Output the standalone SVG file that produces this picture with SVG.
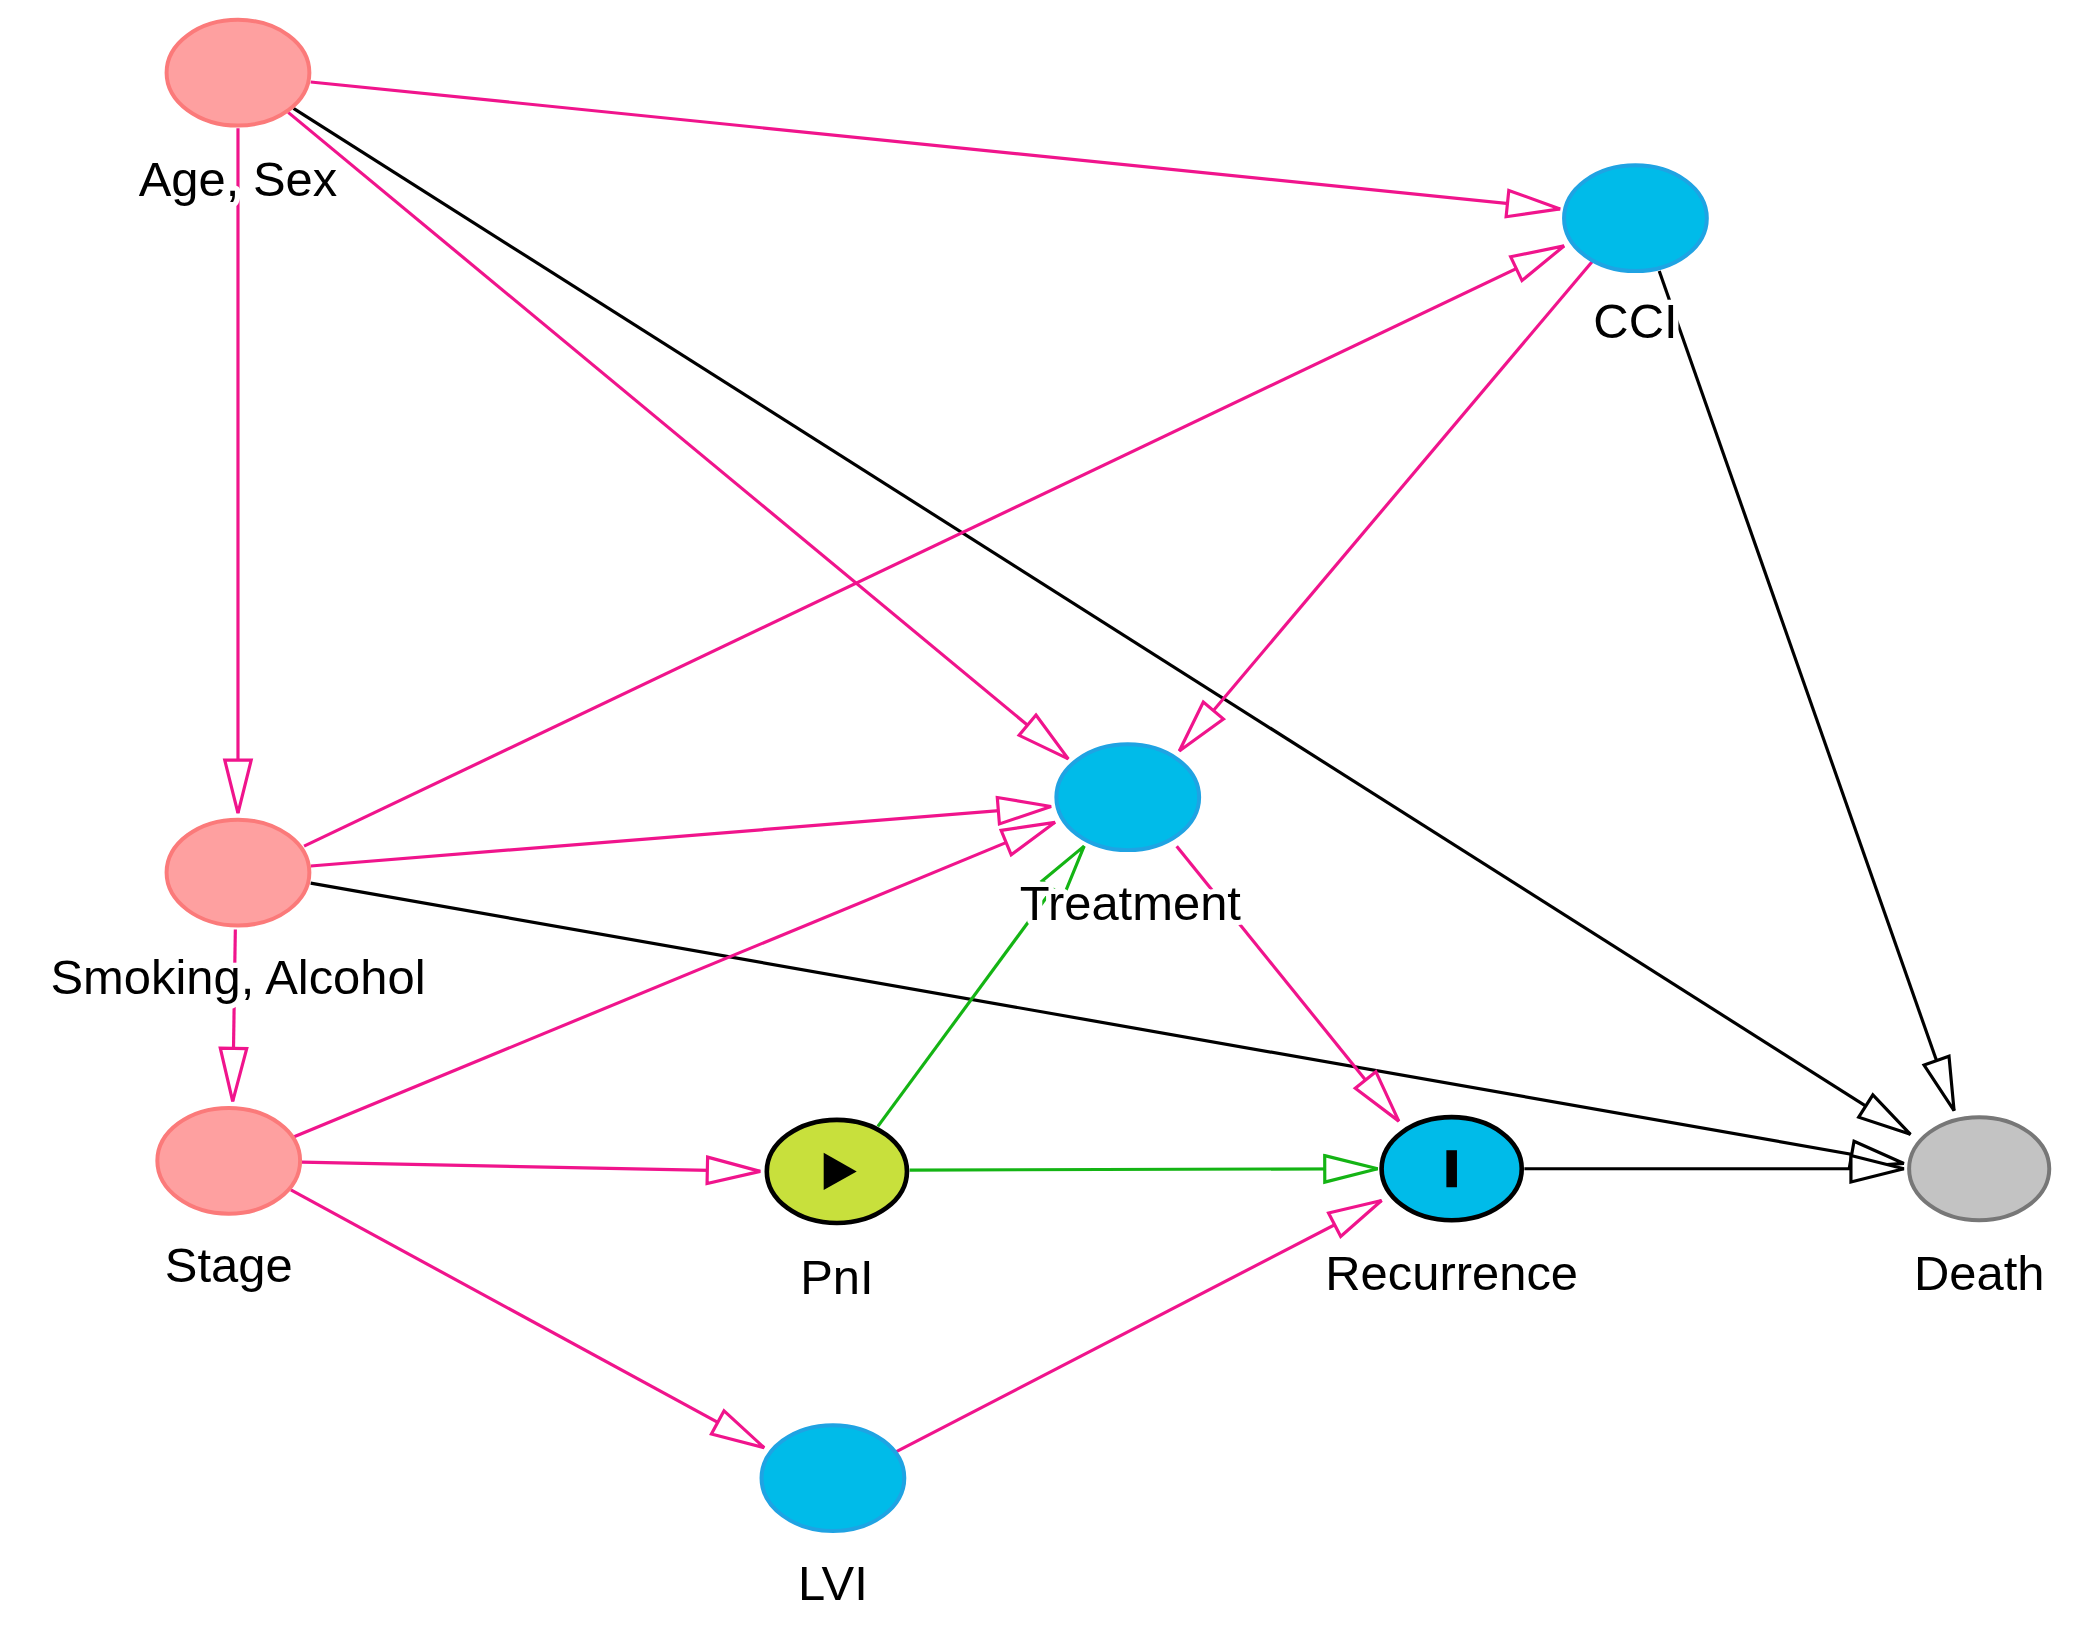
<svg xmlns="http://www.w3.org/2000/svg" width="2073" height="1637" viewBox="0 0 2073 1637">
<style>
.p{stroke:#f0148c;stroke-width:2.4;fill:none}
.k{stroke:#000;stroke-width:2.4;fill:none}
.g{stroke:#14b414;stroke-width:2.4;fill:none}
.red{fill:#fea0a0;stroke:#fb7a7a;stroke-width:3}
.blue{fill:#00bbe9;stroke:#1fa3e3;stroke-width:3}
.lbl{font-family:"Liberation Sans",Arial,sans-serif;font-size:37px;fill:#000;text-anchor:middle;stroke:#fff;stroke-width:8;paint-order:stroke;stroke-linejoin:round}
</style>
<defs>
<marker id="ap" markerUnits="userSpaceOnUse" markerWidth="50" markerHeight="30" refX="42" refY="12" orient="auto"><path d="M2,2 L42,12 L2,22 Z" fill="#fff" stroke="#f0148c" stroke-width="2.4"/></marker>
<marker id="ak" markerUnits="userSpaceOnUse" markerWidth="50" markerHeight="30" refX="42" refY="12" orient="auto"><path d="M2,2 L42,12 L2,22 Z" fill="#fff" stroke="#000" stroke-width="2.4"/></marker>
<marker id="ag" markerUnits="userSpaceOnUse" markerWidth="50" markerHeight="30" refX="42" refY="12" orient="auto"><path d="M2,2 L42,12 L2,22 Z" fill="#fff" stroke="#14b414" stroke-width="2.4"/></marker>
</defs>
<rect width="2073" height="1637" fill="#fff"/>
<g transform="scale(1.3221)">
<g id="connectors">
<line class="p" x1="235" y1="62" x2="1180" y2="158" marker-end="url(#ap)"/>
<line class="k" x1="222" y1="82" x2="1445" y2="858" marker-end="url(#ak)"/>
<line class="p" x1="218" y1="85" x2="808" y2="574" marker-end="url(#ap)"/>
<line class="p" x1="180" y1="97" x2="180" y2="615" marker-end="url(#ap)"/>
<line class="k" x1="1255" y1="205" x2="1478" y2="840" marker-end="url(#ak)"/>
<line class="p" x1="1205" y1="197" x2="892" y2="568" marker-end="url(#ap)"/>
<line class="p" x1="230" y1="640" x2="1183" y2="186" marker-end="url(#ap)"/>
<line class="p" x1="235" y1="655" x2="795" y2="610" marker-end="url(#ap)"/>
<line class="k" x1="235" y1="668" x2="1440" y2="880" marker-end="url(#ak)"/>
<line class="p" x1="178" y1="703" x2="176" y2="833" marker-end="url(#ap)"/>
<line class="p" x1="222" y1="860" x2="798" y2="622" marker-end="url(#ap)"/>
<line class="p" x1="228" y1="879" x2="575" y2="886" marker-end="url(#ap)"/>
<line class="p" x1="220" y1="900" x2="578" y2="1095" marker-end="url(#ap)"/>
<line class="g" x1="664" y1="852" x2="820" y2="640" marker-end="url(#ag)"/>
<line class="g" x1="688" y1="885" x2="1042" y2="884" marker-end="url(#ag)"/>
<line class="p" x1="890" y1="640" x2="1058" y2="848" marker-end="url(#ap)"/>
<line class="p" x1="678" y1="1098" x2="1045" y2="908" marker-end="url(#ap)"/>
<line class="k" x1="1153" y1="884" x2="1440" y2="884" marker-end="url(#ak)"/>
</g>
<g id="age"><ellipse class="red" cx="180" cy="55" rx="54" ry="40"/><text class="lbl" x="180" y="148">Age, Sex</text></g>
<g id="cci"><ellipse class="blue" cx="1237" cy="165" rx="54" ry="40"/><text class="lbl" x="1237" y="256">CCI</text></g>
<g id="treatment"><ellipse class="blue" cx="853" cy="603" rx="54" ry="40"/><text class="lbl" x="855" y="696">Treatment</text></g>
<g id="smoking"><ellipse class="red" cx="180" cy="660" rx="54" ry="40"/><text class="lbl" x="180" y="752">Smoking, Alcohol</text></g>
<g id="stage"><ellipse class="red" cx="173" cy="878" rx="54" ry="40"/><text class="lbl" x="173" y="970">Stage</text></g>
<g id="pni"><ellipse cx="633" cy="886" rx="53" ry="39" fill="#c8e03c" stroke="#000" stroke-width="3.5"/><path d="M623,872 L648,886 L623,900 Z" fill="#000"/><text class="lbl" x="633" y="979">PnI</text></g>
<g id="recurrence"><ellipse cx="1098" cy="884" rx="53" ry="39" fill="#00bbe9" stroke="#000" stroke-width="3.5"/><rect x="1094" y="870" width="8" height="28" fill="#000"/><text class="lbl" x="1098" y="976">Recurrence</text></g>
<g id="death"><ellipse cx="1497" cy="884" rx="53" ry="39" fill="#c3c3c3" stroke="#777" stroke-width="3"/><text class="lbl" x="1497" y="976">Death</text></g>
<g id="lvi"><ellipse class="blue" cx="630" cy="1118" rx="54" ry="40"/><text class="lbl" x="630" y="1210">LVI</text></g>
</g>
</svg>
